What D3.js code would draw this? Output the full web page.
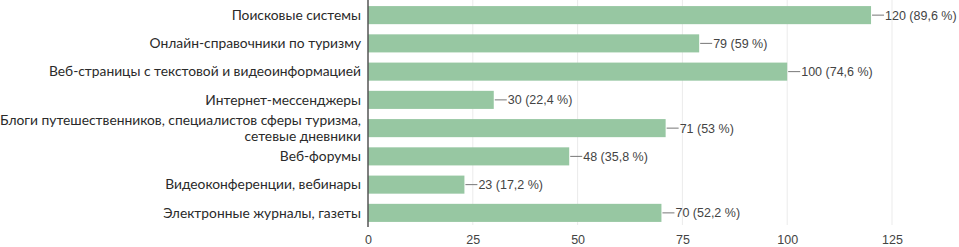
<!DOCTYPE html>
<html><head><meta charset="utf-8">
<script src="https://cdn.jsdelivr.net/npm/d3@7"></script>
<style>body{margin:0;background:#fff;}svg{display:block;}</style>
</head><body>
<svg id="c" width="959" height="247"></svg>
<script>
const categories = [
  ["Поисковые системы"],
  ["Онлайн-справочники по туризму"],
  ["Веб-страницы с текстовой и видеоинформацией"],
  ["Интернет-мессенджеры"],
  ["Блоги путешественников, специалистов сферы туризма,", "сетевые дневники"],
  ["Веб-форумы"],
  ["Видеоконференции, вебинары"],
  ["Электронные журналы, газеты"]
];
const counts = [120, 79, 100, 30, 71, 48, 23, 70];
const percents = ["89,6", "59", "74,6", "22,4", "53", "35,8", "17,2", "52,2"];
const ticks = [0, 25, 50, 75, 100, 125];

const svg = d3.select("#c");
const x = d3.scaleLinear().domain([0, 125]).range([368, 892]);
const y = d3.scaleBand().domain(d3.range(categories.length)).range([1, 227]).paddingInner(0.36).paddingOuter(0.18);

// gridlines
svg.append("g").selectAll("line").data(ticks.slice(1)).join("line")
  .attr("x1", d => x(d)).attr("x2", d => x(d)).attr("y1", 0).attr("y2", 225)
  .attr("stroke", "#ebebeb").attr("stroke-width", 1);

// bars
svg.append("g").selectAll("rect").data(counts).join("rect")
  .attr("x", x(0)).attr("y", (d, i) => y(i)).attr("width", d => x(d) - x(0)).attr("height", y.bandwidth())
  .attr("fill", "#97c7a2");

// leader lines and value labels
const lab = svg.append("g").selectAll("g").data(counts).join("g")
  .attr("transform", (d, i) => `translate(${x(d)},${y(i) + y.bandwidth() / 2})`);
lab.append("line").attr("x1", 1).attr("x2", 13).attr("y1", 0).attr("y2", 0).attr("stroke", "#777").attr("stroke-width", 1);
lab.append("text").attr("x", 14).attr("dy", "0.36em")
  .style("font-family", "'Liberation Sans', Arial, sans-serif").style("font-size", "12.5px").attr("fill", "#444")
  .text((d, i) => `${d} (${percents[i]} %)`);

// category labels
const cl = svg.append("g").selectAll("text").data(categories).join("text")
  .attr("text-anchor", "end")
  .style("font-family", "Lato, 'Open Sans', sans-serif").style("font-size", "13.8px").attr("fill", "#2a2a2a")
  .attr("transform", (d, i) => `translate(361,${y(i) + y.bandwidth() / 2})`);
cl.each(function(lines) {
  const t = d3.select(this);
  const n = lines.length;
  lines.forEach((s, k) => {
    t.append("tspan").attr("x", 0).attr("y", (k - (n - 1) / 2) * 16).attr("dy", "0.35em").text(s);
  });
});

// axis
const ax = svg.append("g").attr("transform", "translate(0,227)").call(d3.axisBottom(x).tickValues(ticks).tickSize(0).tickPadding(8));
ax.select(".domain").remove();
ax.selectAll("text").style("font-family", "'Liberation Sans', Arial, sans-serif").style("font-size", "12.5px").attr("fill", "#444");

svg.append("line").attr("x1", 368).attr("x2", 368).attr("y1", 0).attr("y2", 227).attr("stroke", "#555").attr("stroke-width", 1.5);
</script>
</body></html>
